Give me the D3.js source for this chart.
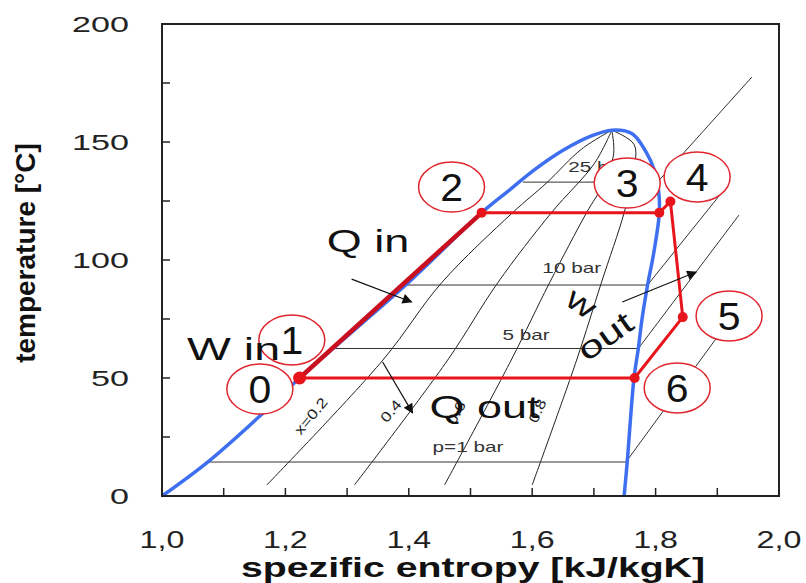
<!DOCTYPE html>
<html>
<head>
<meta charset="utf-8">
<script src="https://cdn.jsdelivr.net/npm/d3@7"></script>
<style>
  body { margin: 0; background: #fff; }
  svg text { font-family: "Liberation Sans", Arial, sans-serif; }
</style>
</head>
<body>
<svg id="chart" width="806" height="583"></svg>
<script>
// saturation dome, [s kJ/kgK, T degC]
var liquidLine = [[1.0, 0], [1.074, 14.4], [1.159, 34], [1.223, 50], [1.277, 62.5], [1.395, 89.4], [1.518, 120],
    [1.56, 129], [1.605, 138.5], [1.65, 146.5], [1.695, 152.5], [1.729, 155]]
var vaporLine = [[1.729, 155], [1.762, 153.5], [1.784, 146], [1.798, 138], [1.805, 129], [1.806, 120], [1.797, 103],
    [1.787, 89.4], [1.778, 75], [1.772, 62.5], [1.765, 50], [1.754, 14.4], [1.749, 0]]

// lines of constant vapour quality
var qualityLines = {
    "0.2": [[1.170, 4.7], [1.358, 57.6], [1.453, 90.3], [1.568, 120], [1.623, 132.6], [1.68, 147], [1.729, 155]],
    "0.4": [[1.312, 4.7], [1.463, 57.6], [1.544, 90.3], [1.631, 120], [1.701, 141], [1.729, 155]],
    "0.6": [[1.458, 4.7], [1.566, 57.6], [1.628, 90.3], [1.688, 120], [1.715, 132], [1.732, 145], [1.729, 155]],
    "0.8": [[1.600, 4.7], [1.672, 57.6], [1.712, 90.3], [1.749, 120], [1.765, 138], [1.765, 149], [1.729, 155]]
}
// isobars: horizontal in the dome, then superheated
var isobars = {
    "p=1 bar": [[1.074, 14.4], [1.752, 14.4], [1.900, 67.4]],
    "5 bar": [[1.277, 62.5], [1.772, 62.5], [1.935, 119]],
    "10 bar": [[1.395, 89.4], [1.787, 89.4], [1.916, 131.4]],
    "25 bar": [[1.585, 133], [1.803, 133], [1.956, 177.5]]
}
// cycle states 0,2,3,4,5,6 (and back to 0)
var cycleNames = ["0", "2", "3", "4", "5", "6"]
var cycleS = [1.223, 1.518, 1.806, 1.824, 1.844, 1.766]
var cycleT = [50, 120, 120, 124.8, 75.8, 50]

var xTicks = [1.0, 1.2, 1.4, 1.6, 1.8, 2.0]
var yTicks = [0, 50, 100, 150, 200]

// labels (data coordinates)
var stateLabels = [["0", 1.1586, 45.3], ["1", 1.2104, 66.1], ["2", 1.4693, 130.9], ["3", 1.754, 132.6],
    ["4", 1.8673, 135.2], ["5", 1.9191, 76.3], ["6", 1.835, 45.8]]
var isobarLabels = [["25 bar", 1.6586, 137.3], ["10 bar", 1.6165, 94.5], ["5 bar", 1.552, 66.1], ["p=1 bar", 1.4385, 18.6]]
var qualityLabels = [["x=0.2", 1.2475, 32.6, -50], ["0.4", 1.3770, 34.7, -50], ["0.6", 1.4838, 34.3, -62], ["0.8", 1.6155, 35.2, -65]]
var arrows = [[[1.3074, 91.9], [1.4045, 82.2]], [[1.3576, 56.8], [1.4061, 35.2]], [[1.746, 82.2], [1.8657, 94.9]]]

var svg = d3.select("#chart")
var x = d3.scaleLinear().domain([1, 2]).range([162, 779])
var y = d3.scaleLinear().domain([0, 200]).range([496, 24])
var line = d3.line().x(d => x(d[0])).y(d => y(d[1]))
var curve = d3.line().x(d => x(d[0])).y(d => y(d[1])).curve(d3.curveCatmullRom.alpha(0.5))

function stretch(sel, k) {
    sel.each(function () {
        var w = this.getComputedTextLength()
        this.setAttribute("textLength", w * k)
        this.setAttribute("lengthAdjust", "spacingAndGlyphs")
    })
}

var defs = svg.append("defs")
defs.append("marker").attr("id", "head").attr("viewBox", "0 0 10 10")
    .attr("refX", 9).attr("refY", 5).attr("markerWidth", 14).attr("markerHeight", 10)
    .attr("markerUnits", "userSpaceOnUse").attr("orient", "auto")
    .append("path").attr("d", "M0,0 L10,5 L0,10 z").attr("fill", "#111")

// thin black lines
var g = svg.append("g")
Object.keys(qualityLines).forEach(k => {
    g.append("path").attr("d", curve(qualityLines[k])).attr("fill", "none").attr("stroke", "#222").attr("stroke-width", 1)
})
Object.keys(isobars).forEach(k => {
    g.append("path").attr("d", line(isobars[k])).attr("fill", "none").attr("stroke", "#333").attr("stroke-width", 1)
})

// small labels
isobarLabels.forEach(d => {
    g.append("text").attr("x", x(d[1])).attr("y", y(d[2])).attr("font-size", 15).attr("fill", "#333").text(d[0])
        .call(stretch, 1.38)
})
qualityLabels.forEach(d => {
    g.append("text").attr("transform", "translate(" + x(d[1]) + "," + y(d[2]) + ") rotate(" + d[3] + ")")
        .attr("text-anchor", "middle").attr("font-size", 14).attr("fill", "#222").text(d[0])
        .call(stretch, 1.25)
})

// saturation dome
svg.append("path").attr("d", curve(liquidLine.concat(vaporLine.slice(1))))
    .attr("fill", "none").attr("stroke", "#3d6ff0").attr("stroke-width", 3.5)

// numbered circles
stateLabels.forEach(d => {
    svg.append("ellipse").attr("cx", x(d[1])).attr("cy", y(d[2])).attr("rx", 33).attr("ry", 25)
        .attr("fill", "#fff").attr("stroke", "#e0262e").attr("stroke-width", 1.5)
    svg.append("text").attr("x", x(d[1])).attr("y", y(d[2]) + 14).attr("text-anchor", "middle")
        .attr("font-size", 39).attr("fill", "#111").text(d[0]).call(stretch, 1.05)
})

// cycle
var pts = cycleS.map((s, i) => [s, cycleT[i]])
svg.append("path").attr("d", line(pts.slice(1).concat([pts[0]])))
    .attr("fill", "none").attr("stroke", "#e8141c").attr("stroke-width", 3).attr("stroke-linejoin", "round")
svg.append("path").attr("d", line(pts.slice(0, 2)))
    .attr("fill", "none").attr("stroke", "#c81020").attr("stroke-width", 4.5)
svg.selectAll(".pt").data(pts).enter().append("circle").attr("class", "pt")
    .attr("cx", d => x(d[0])).attr("cy", d => y(d[1])).attr("r", (d, i) => i == 0 ? 6.5 : 5)
    .attr("fill", "#e8141c")

// arrows
arrows.forEach(a => {
    svg.append("path").attr("d", line(a)).attr("stroke", "#111").attr("stroke-width", 1.2)
        .attr("fill", "none").attr("marker-end", "url(#head)")
})

// big annotations
function big(txt, s, t, k, rot, anchor) {
    svg.append("text").attr("transform", "translate(" + x(s) + "," + y(t) + ") rotate(" + (rot || 0) + ")")
        .attr("text-anchor", anchor || "start").attr("font-size", 31).attr("fill", "#111").text(txt).call(stretch, k)
}
big("Q in", 1.267, 103.4, 1.45)
big("W in", 1.0405, 57.6, 1.5)
big("Q out", 1.4337, 33, 1.45)
big("w", 1.67, 78, 1.3, 35, "middle")
big("out", 1.728, 64, 1.4, -35, "middle")

// frame and ticks
svg.append("rect").attr("x", 162).attr("y", 24).attr("width", 617).attr("height", 472)
    .attr("fill", "none").attr("stroke", "#222").attr("stroke-width", 2)
svg.selectAll(".xt").data(d3.range(1.1, 2.0, 0.1)).enter().append("line").attr("class", "xt")
    .attr("x1", d => x(d)).attr("x2", d => x(d)).attr("y1", y(0)).attr("y2", y(0) - 8)
    .attr("stroke", "#222").attr("stroke-width", 1.5)
svg.selectAll(".yt").data(d3.range(25, 200, 25)).enter().append("line").attr("class", "yt")
    .attr("x1", x(1)).attr("x2", x(1) + 8).attr("y1", d => y(d)).attr("y2", d => y(d))
    .attr("stroke", "#222").attr("stroke-width", 1.5)

svg.selectAll(".xl").data(xTicks).enter().append("text").attr("class", "xl")
    .attr("x", d => x(d)).attr("y", 548).attr("text-anchor", "middle").attr("font-size", 23).attr("fill", "#222")
    .text(d => d3.format(".1f")(d).replace(".", ",")).call(stretch, 1.4)
svg.selectAll(".yl").data(yTicks).enter().append("text").attr("class", "yl")
    .attr("x", 129).attr("y", d => y(d) + 8).attr("text-anchor", "end").attr("font-size", 22).attr("fill", "#222")
    .text(d => d).call(stretch, 1.55)

svg.append("text").attr("x", 473).attr("y", 577).attr("text-anchor", "middle").attr("font-size", 28)
    .attr("font-weight", "bold").attr("fill", "#111").text("spezific entropy [kJ/kgK]").call(stretch, 1.4)
svg.append("text").attr("transform", "translate(35,253) rotate(-90)").attr("text-anchor", "middle")
    .attr("font-size", 28).attr("font-weight", "bold").attr("fill", "#111").text("temperature [°C]")
</script>
</body>
</html>
